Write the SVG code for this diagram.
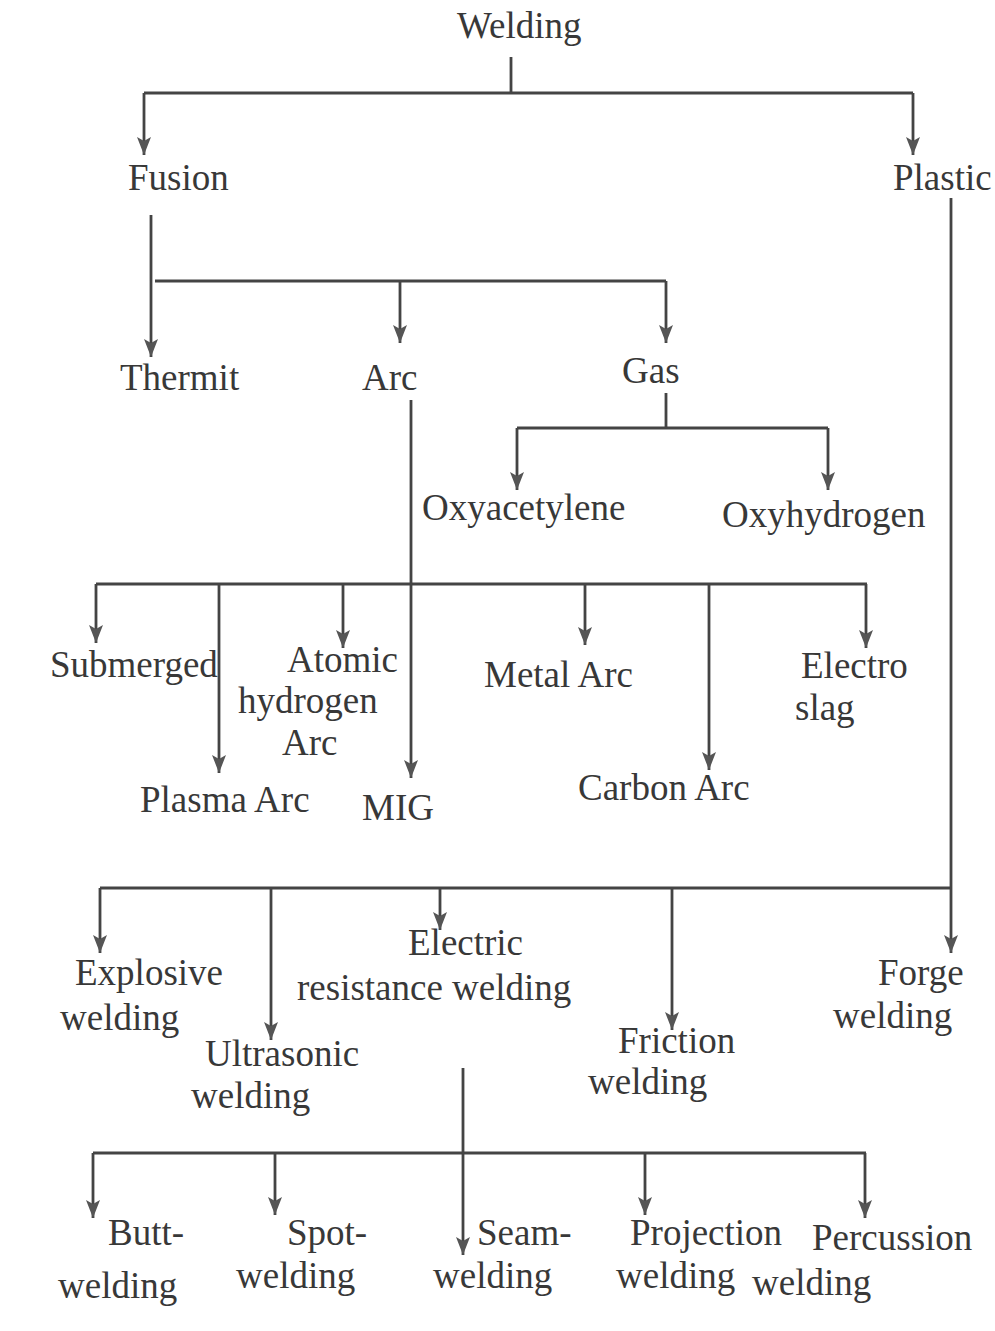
<svg xmlns="http://www.w3.org/2000/svg" width="995" height="1331" viewBox="0 0 995 1331">
<style>
text{font-family:"Liberation Serif","DejaVu Serif",serif;font-size:37px;fill:#383838}
.c{fill:none;stroke:#444;stroke-width:2.8}
</style>
<defs>
<marker id="ah" markerUnits="userSpaceOnUse" markerWidth="20" markerHeight="16" refX="18" refY="7" orient="auto">
<path d="M0,0 L18,7 L0,14 L4,7 Z" fill="#555"/>
</marker>
</defs>
<rect width="995" height="1331" fill="#fff"/>
<g id="connectors">
<path class="c" d="M511,57 V93 M144,93 H913 M151,215 V281 M155,281 H666 M666,393 V428 M517,428 H828 M96,584 H867 M100,888 H951 M463,1068 V1153 M93,1153 H866"/>
<path class="c" marker-end="url(#ah)" d="M144,93 V155"/>
<path class="c" marker-end="url(#ah)" d="M913,93 V155"/>
<path class="c" marker-end="url(#ah)" d="M151,281 V357"/>
<path class="c" marker-end="url(#ah)" d="M400,281 V343"/>
<path class="c" marker-end="url(#ah)" d="M666,281 V343"/>
<path class="c" marker-end="url(#ah)" d="M517,428 V490"/>
<path class="c" marker-end="url(#ah)" d="M828,428 V490"/>
<path class="c" marker-end="url(#ah)" d="M411,400 V778"/>
<path class="c" marker-end="url(#ah)" d="M96,584 V643"/>
<path class="c" marker-end="url(#ah)" d="M219,584 V773"/>
<path class="c" marker-end="url(#ah)" d="M343,584 V648"/>
<path class="c" marker-end="url(#ah)" d="M585,584 V645"/>
<path class="c" marker-end="url(#ah)" d="M709,584 V770"/>
<path class="c" marker-end="url(#ah)" d="M866,584 V648"/>
<path class="c" marker-end="url(#ah)" d="M951,198 V953"/>
<path class="c" marker-end="url(#ah)" d="M100,888 V953"/>
<path class="c" marker-end="url(#ah)" d="M271,888 V1040"/>
<path class="c" marker-end="url(#ah)" d="M440,888 V930"/>
<path class="c" marker-end="url(#ah)" d="M672,888 V1030"/>
<path class="c" marker-end="url(#ah)" d="M93,1153 V1218"/>
<path class="c" marker-end="url(#ah)" d="M275,1153 V1215"/>
<path class="c" marker-end="url(#ah)" d="M463,1153 V1255"/>
<path class="c" marker-end="url(#ah)" d="M645,1153 V1215"/>
<path class="c" marker-end="url(#ah)" d="M865,1153 V1218"/>
</g>
<g id="welding"><text x="457" y="38">Welding</text></g>
<g id="fusion"><text x="128" y="190">Fusion</text></g>
<g id="plastic"><text x="893" y="190">Plastic</text></g>
<g id="thermit"><text x="120" y="390">Thermit</text></g>
<g id="arc"><text x="362" y="390">Arc</text></g>
<g id="gas"><text x="622" y="383">Gas</text></g>
<g id="oxyacetylene"><text x="422" y="520">Oxyacetylene</text></g>
<g id="oxyhydrogen"><text x="722" y="527">Oxyhydrogen</text></g>
<g id="submerged"><text x="50" y="677">Submerged</text></g>
<g id="atomic"><text x="287" y="672">Atomic</text><text x="238" y="713">hydrogen</text><text x="282" y="755">Arc</text></g>
<g id="plasma"><text x="140" y="812">Plasma Arc</text></g>
<g id="mig"><text x="362" y="820">MIG</text></g>
<g id="metalarc"><text x="484" y="687">Metal Arc</text></g>
<g id="carbonarc"><text x="578" y="800">Carbon Arc</text></g>
<g id="electroslag"><text x="801" y="678">Electro</text><text x="795" y="720">slag</text></g>
<g id="explosive"><text x="75" y="985">Explosive</text><text x="60" y="1030">welding</text></g>
<g id="electric"><text x="408" y="955">Electric</text><text x="297" y="1000">resistance welding</text></g>
<g id="forge"><text x="878" y="985">Forge</text><text x="833" y="1028">welding</text></g>
<g id="ultrasonic"><text x="205" y="1066">Ultrasonic</text><text x="191" y="1108">welding</text></g>
<g id="friction"><text x="618" y="1053">Friction</text><text x="588" y="1094">welding</text></g>
<g id="butt"><text x="108" y="1245">Butt-</text><text x="58" y="1298">welding</text></g>
<g id="spot"><text x="287" y="1245">Spot-</text><text x="236" y="1288">welding</text></g>
<g id="seam"><text x="477" y="1245">Seam-</text><text x="433" y="1288">welding</text></g>
<g id="projection"><text x="630" y="1245">Projection</text><text x="616" y="1288">welding</text></g>
<g id="percussion"><text x="812" y="1250">Percussion</text><text x="752" y="1295">welding</text></g>
</svg>
